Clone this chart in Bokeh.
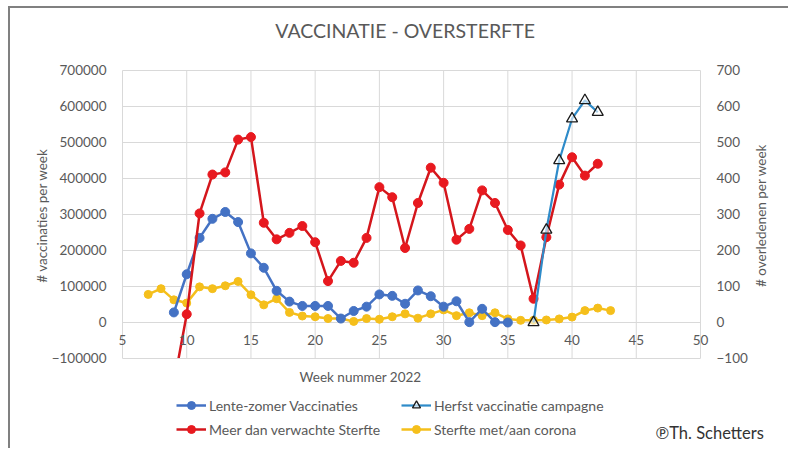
import math
from bokeh.plotting import figure
from bokeh.models import Range1d, LinearAxis, FixedTicker, Legend, LegendItem, Label, BasicTickFormatter
from bokeh.embed import file_html
from bokeh.resources import INLINE

# ---- data ----
weeks_spring = list(range(9, 36))
spring_vacc = [28000, 134000, 235000, 288000, 307000, 279000, 192000, 152000, 88000, 58000,
               46000, 46000, 46000, 11000, 32000, 44000, 78000, 74000, 52000, 89000,
               73000, 44000, 59000, 1000, 38000, 1000, 0]

weeks_autumn = list(range(37, 43))
autumn_vacc = [0, 257000, 450000, 566000, 617000, 584000]

weeks_excess = list(range(9, 43))
excess_deaths = [-170, 23, 303, 411, 417, 508, 515, 277, 231, 249, 268, 223, 115, 171, 166,
                 235, 376, 348, 207, 332, 430, 388, 230, 260, 367, 332, 257, 214, 66, 237,
                 383, 459, 408, 441]

weeks_corona = list(range(7, 44))
corona_deaths = [78, 94, 63, 54, 99, 94, 102, 114, 77, 49, 66, 28, 18, 16, 11, 11, 3, 11, 9,
                 16, 24, 12, 24, 35, 19, 27, 19, 27, 10, 6, 6, 7, 10, 15, 33, 40, 33]

x_ticks = [5, 10, 15, 20, 25, 30, 35, 40, 45, 50]
left_ticks = [-100000, 0, 100000, 200000, 300000, 400000, 500000, 600000, 700000]
right_ticks = [-100, 0, 100, 200, 300, 400, 500, 600, 700]

FONT = "Lato"
GRAY = "#595959"
GRID = "#d9d9d9"
BLUE = "#4472C4"
BLUE2 = "#2E8BC9"
RED_LINE = "#D4161C"
RED = "#E8191F"
YELLOW = "#F5BF1B"

X0, X1 = -3.72, 57.007
Y0, Y1 = -355556, 872222

# plot area spans the whole canvas; axes sit at fixed data locations
p = figure(width=780, height=442, output_backend="svg", toolbar_location=None,
           x_range=Range1d(X0, X1), y_range=Range1d(Y0, Y1),
           min_border_left=0, min_border_right=0, min_border_top=0, min_border_bottom=0,
           margin=(6, 0, 0, 8),
           styles={"border-top": "2px solid #808080", "border-left": "2px solid #808080"})
p.extra_y_ranges = {"right": Range1d(Y0 / 1000, Y1 / 1000)}
p.outline_line_color = None
p.background_fill_color = "white"
p.border_fill_color = "white"
p.title.visible = False
p.xgrid.visible = False
p.ygrid.visible = False

# grid lines bounded to the chart area, taken from the tick arrays
p.segment(x0=x_ticks, y0=[min(left_ticks)] * len(x_ticks), x1=x_ticks, y1=[max(left_ticks)] * len(x_ticks),
          line_color=GRID, line_width=1)
p.segment(x0=[min(x_ticks)] * len(left_ticks), y0=left_ticks, x1=[max(x_ticks)] * len(left_ticks), y1=left_ticks,
          line_color=GRID, line_width=1)

# axes
p.xaxis.ticker = FixedTicker(ticks=x_ticks)
p.xaxis.fixed_location = 0
p.yaxis.ticker = FixedTicker(ticks=left_ticks)
p.yaxis.formatter = BasicTickFormatter(use_scientific=False)
p.yaxis.fixed_location = min(x_ticks)

right_axis = LinearAxis(y_range_name="right", ticker=FixedTicker(ticks=right_ticks),
                        fixed_location=max(x_ticks))
p.add_layout(right_axis, "right")

for ax in [p.xaxis[0], p.yaxis[0], right_axis]:
    ax.axis_line_color = None
    ax.major_tick_line_color = None
    ax.minor_tick_line_color = None
    ax.major_label_text_font = FONT
    ax.major_label_text_font_size = "13.5px"
    ax.major_label_text_color = GRAY
p.xaxis.major_label_standoff = 7
p.yaxis.major_label_standoff = 10
right_axis.major_label_standoff = 10

# series
l4 = p.line(weeks_corona, corona_deaths, line_color=YELLOW, line_width=2.5, y_range_name="right")
s4 = p.scatter(weeks_corona, corona_deaths, marker="circle", size=8, fill_color=YELLOW, line_color=YELLOW,
               y_range_name="right")

l1 = p.line(weeks_spring, spring_vacc, line_color=BLUE, line_width=2.5)
s1 = p.scatter(weeks_spring, spring_vacc, marker="circle", size=9, fill_color=BLUE, line_color=BLUE)

l3 = p.line(weeks_excess, excess_deaths, line_color=RED_LINE, line_width=2.5, y_range_name="right")
s3 = p.scatter(weeks_excess, excess_deaths, marker="circle", size=9, fill_color=RED, line_color=RED,
               y_range_name="right")

l2 = p.line(weeks_autumn, autumn_vacc, line_color=BLUE2, line_width=2.2)
s2 = p.scatter(weeks_autumn, autumn_vacc, marker="triangle", size=11, fill_color="white",
               fill_alpha=0.6, line_color="#1a1a1a", line_width=1.3)

# mask: clip the series at the bottom of the value axis (as the chart area does)
p.quad(left=[X0], right=[X1], bottom=[Y0], top=[min(left_ticks)], fill_color="white", line_color=None)
p.segment(x0=[min(x_ticks)], y0=[min(left_ticks)], x1=[max(x_ticks)], y1=[min(left_ticks)],
          line_color=GRID, line_width=1)

legend = Legend(items=[
    LegendItem(label="Lente-zomer Vaccinaties", renderers=[l1, s1]),
    LegendItem(label="Meer dan verwachte Sterfte", renderers=[l3, s3]),
    LegendItem(label="Herfst vaccinatie campagne", renderers=[l2, s2]),
    LegendItem(label="Sterfte met/aan corona", renderers=[l4, s4]),
], ncols=2, location=(166, 11))
legend.padding = 0
legend.margin = 0
legend.spacing = 4
legend.glyph_width = 30
legend.glyph_height = 20
legend.label_height = 20
legend.label_width = 188
legend.label_standoff = 3
legend.label_text_font = FONT
legend.label_text_font_size = "14px"
legend.label_text_color = GRAY
legend.border_line_color = None
legend.background_fill_alpha = 0
p.add_layout(legend)

# texts
def lab(x, y, text, size, color=GRAY, align="center", angle=0.0):
    p.add_layout(Label(x=x, y=y, text=text, text_align=align, text_baseline="middle",
                       angle=angle, text_font=FONT, text_font_size=size, text_color=color))

lab(27.0, 811000, "VACCINATIE - OVERSTERFTE", "19.5px")
lab(-1.23, 297222, "# vaccinaties per week", "13.5px", angle=math.pi / 2)
lab(54.7, 297222, "# overledenen per week", "13.5px", angle=math.pi / 2)
lab(23.53, -152778, "Week nummer 2022", "13.5px")
lab(46.5, -305556, "\u2117Th. Schetters", "16.5px", color="#333333", align="left")

open("out.html", "w").write(file_html(p, INLINE))
